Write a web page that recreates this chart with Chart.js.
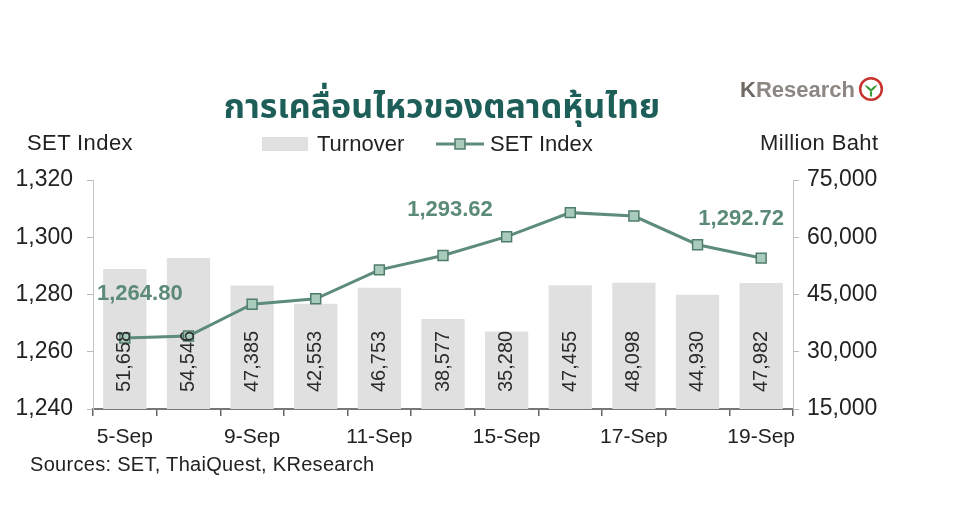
<!DOCTYPE html>
<html>
<head>
<meta charset="utf-8">
<script src="https://cdn.jsdelivr.net/npm/chart.js@4.4.1/dist/chart.umd.min.js"></script>
<style>
  html, body { margin: 0; padding: 0; background: #fff; }
  #wrap { position: relative; width: 960px; height: 506px; font-family: "Liberation Sans", Arial, sans-serif; }
  #title { position: absolute; left: 0; width: 884px; top: 82px; text-align: center; font-size: 34px; font-weight: bold; color: #1d5e58; font-family: "Noto Sans Thai", "Loma", "Garuda", "Tlwg Typo", "Noto Sans", sans-serif; }
  #logo { position: absolute; left: 740px; top: 76px; font-size: 22px; font-weight: bold; color: #8c8782; }
  #logo b { color: #6e6863; }
  #logo svg { vertical-align: -5px; margin-left: 3px; }
  .axt { position: absolute; top: 130px; font-size: 22px; color: #222; letter-spacing: 0.4px; }
  #src { position: absolute; left: 30px; top: 453px; font-size: 20px; color: #222; letter-spacing: 0.3px; }
</style>
</head>
<body>
<div id="wrap">
  <canvas id="myChart" width="960" height="506"></canvas>
  <div id="title">การเคลื่อนไหวของตลาดหุ้นไทย</div>
  <div id="logo"><b>K</b>Research<svg width="26" height="26" viewBox="0 0 24 24"><circle cx="12" cy="12" r="10" fill="#fff" stroke="#c8332d" stroke-width="2.3"/><path d="M6 8 Q9 13 12 14 Q15 13 18 8 Q14 9 12 12 Q10 9 6 8 Z M11 14 L11 19 L13 19 L13 14 Z" fill="#3d9a3a"/></svg></div>
  <div class="axt" style="left:27px">SET Index</div>
  <div class="axt" style="left:760px">Million Baht</div>
  <div id="src">Sources: SET, ThaiQuest, KResearch</div>
</div>
<script>
const labels = ['5-Sep', '8-Sep', '9-Sep', '10-Sep', '11-Sep', '12-Sep', '15-Sep', '16-Sep', '17-Sep', '18-Sep', '19-Sep'];
const turnover = [51658, 54546, 47385, 42553, 46753, 38577, 35280, 47455, 48098, 44930, 47982];
const setIndex = [1264.80, 1265.5, 1276.6, 1278.5, 1288.6, 1293.62, 1300.2, 1308.6, 1307.4, 1297.4, 1292.72];
const leftTicks = [1240, 1260, 1280, 1300, 1320];
const rightTicks = [15000, 30000, 45000, 60000, 75000];
// which line points get a value label
const labelledPoints = [0, 5, 10];

const fmt = v => v.toLocaleString('en-US');

// ป้ายตัวเลข บนแท่ง และ บนเส้น
const valueLabels = {
    id: 'valueLabels',
    afterDatasetsDraw(chart) {
        const { ctx } = chart;
        const bottom = chart.chartArea.bottom;
        // bar labels, rotated
        const barMeta = chart.getDatasetMeta(0);
        ctx.save();
        ctx.font = '20px "Liberation Sans", Arial, sans-serif';
        ctx.fillStyle = '#2b2b2b';
        ctx.textAlign = 'left';
        ctx.textBaseline = 'middle';
        barMeta.data.forEach((bar, i) => {
            ctx.save();
            ctx.translate(bar.x, bottom - 17);
            ctx.rotate(-Math.PI / 2);
            ctx.fillText(fmt(turnover[i]), 0, 0);
            ctx.restore();
        });
        ctx.restore();

        // line labels
        const lineMeta = chart.getDatasetMeta(1);
        const offsets = { 0: [15, -44], 5: [7, -46], 10: [-20, -39] };
        ctx.save();
        ctx.font = 'bold 22px "Liberation Sans", Arial, sans-serif';
        ctx.fillStyle = '#5b8a77';
        ctx.textAlign = 'center';
        ctx.textBaseline = 'middle';
        labelledPoints.forEach(i => {
            const p = lineMeta.data[i];
            const [dx, dy] = offsets[i];
            ctx.fillText(setIndex[i].toLocaleString('en-US', { minimumFractionDigits: 2 }), p.x + dx, p.y + dy);
        });
        ctx.restore();
    },
    afterDraw(chart) {
        // legend
        const { ctx } = chart;
        const y = 144;
        ctx.save();
        ctx.fillStyle = chart.data.datasets[0].backgroundColor;
        ctx.fillRect(262, y - 7, 46, 14);
        ctx.font = '22px "Liberation Sans", Arial, sans-serif';
        ctx.fillStyle = '#222';
        ctx.textBaseline = 'middle';
        ctx.fillText(chart.data.datasets[0].label, 317, y + 1);
        const ds = chart.data.datasets[1];
        ctx.strokeStyle = ds.borderColor;
        ctx.lineWidth = 3;
        ctx.beginPath();
        ctx.moveTo(436, y);
        ctx.lineTo(484, y);
        ctx.stroke();
        ctx.fillStyle = ds.pointBackgroundColor;
        ctx.strokeStyle = ds.pointBorderColor;
        ctx.lineWidth = 1.5;
        ctx.fillRect(455, y - 5, 10, 10);
        ctx.strokeRect(455, y - 5, 10, 10);
        ctx.fillStyle = '#222';
        ctx.fillText(ds.label, 490, y + 1);
        ctx.restore();
    }
};

const tickFont = { family: '"Liberation Sans", Arial, sans-serif', size: 23 };

new Chart(document.getElementById('myChart').getContext('2d'), {
    data: {
        labels: labels,
        datasets: [{
            type: 'bar',
            label: 'Turnover',
            data: turnover,
            yAxisID: 'yRight',
            backgroundColor: '#e0e0e0',
            barPercentage: 0.68,
            categoryPercentage: 1,
            order: 2
        }, {
            type: 'line',
            label: 'SET Index',
            data: setIndex,
            yAxisID: 'yLeft',
            borderColor: '#5e8c7a',
            borderWidth: 3,
            pointStyle: 'rect',
            pointRadius: 7,
            pointBackgroundColor: '#a9cbbb',
            pointBorderColor: '#4f7d6b',
            pointBorderWidth: 1.5,
            tension: 0,
            order: 1
        }]
    },
    options: {
        responsive: false,
        animation: false,
        layout: { padding: { top: 180, left: 0, right: 0, bottom: 0 } },
        plugins: { legend: { display: false }, tooltip: { enabled: false } },
        scales: {
            x: {
                offset: true,
                grid: { offset: true, drawOnChartArea: false, drawTicks: true, tickLength: 7, color: '#666', lineWidth: 1.5 },
                border: { color: '#777', width: 2 },
                ticks: {
                    autoSkip: false, maxRotation: 0, padding: 9, color: '#222',
                    font: { family: '"Liberation Sans", Arial, sans-serif', size: 21 },
                    callback: (v, i) => (i % 2 === 0 ? labels[i] : '')
                },
                afterFit: s => { s.height = 97; }
            },
            yLeft: {
                position: 'left',
                min: 1240, max: 1320,
                afterBuildTicks: s => { s.ticks = leftTicks.map(v => ({ value: v })); },
                grid: { drawOnChartArea: false, tickLength: 6, color: '#bbb' },
                border: { color: '#c4c4c4' },
                ticks: { padding: 14, color: '#222', font: tickFont, callback: v => fmt(v) },
                afterFit: s => { s.width = 93; }
            },
            yRight: {
                position: 'right',
                min: 15000, max: 75000,
                afterBuildTicks: s => { s.ticks = rightTicks.map(v => ({ value: v })); },
                grid: { drawOnChartArea: false, tickLength: 6, color: '#bbb' },
                border: { color: '#c4c4c4' },
                ticks: { padding: 8, color: '#222', font: tickFont, callback: v => fmt(v) },
                afterFit: s => { s.width = 167; }
            }
        }
    },
    plugins: [valueLabels]
});
</script>
</body>
</html>
